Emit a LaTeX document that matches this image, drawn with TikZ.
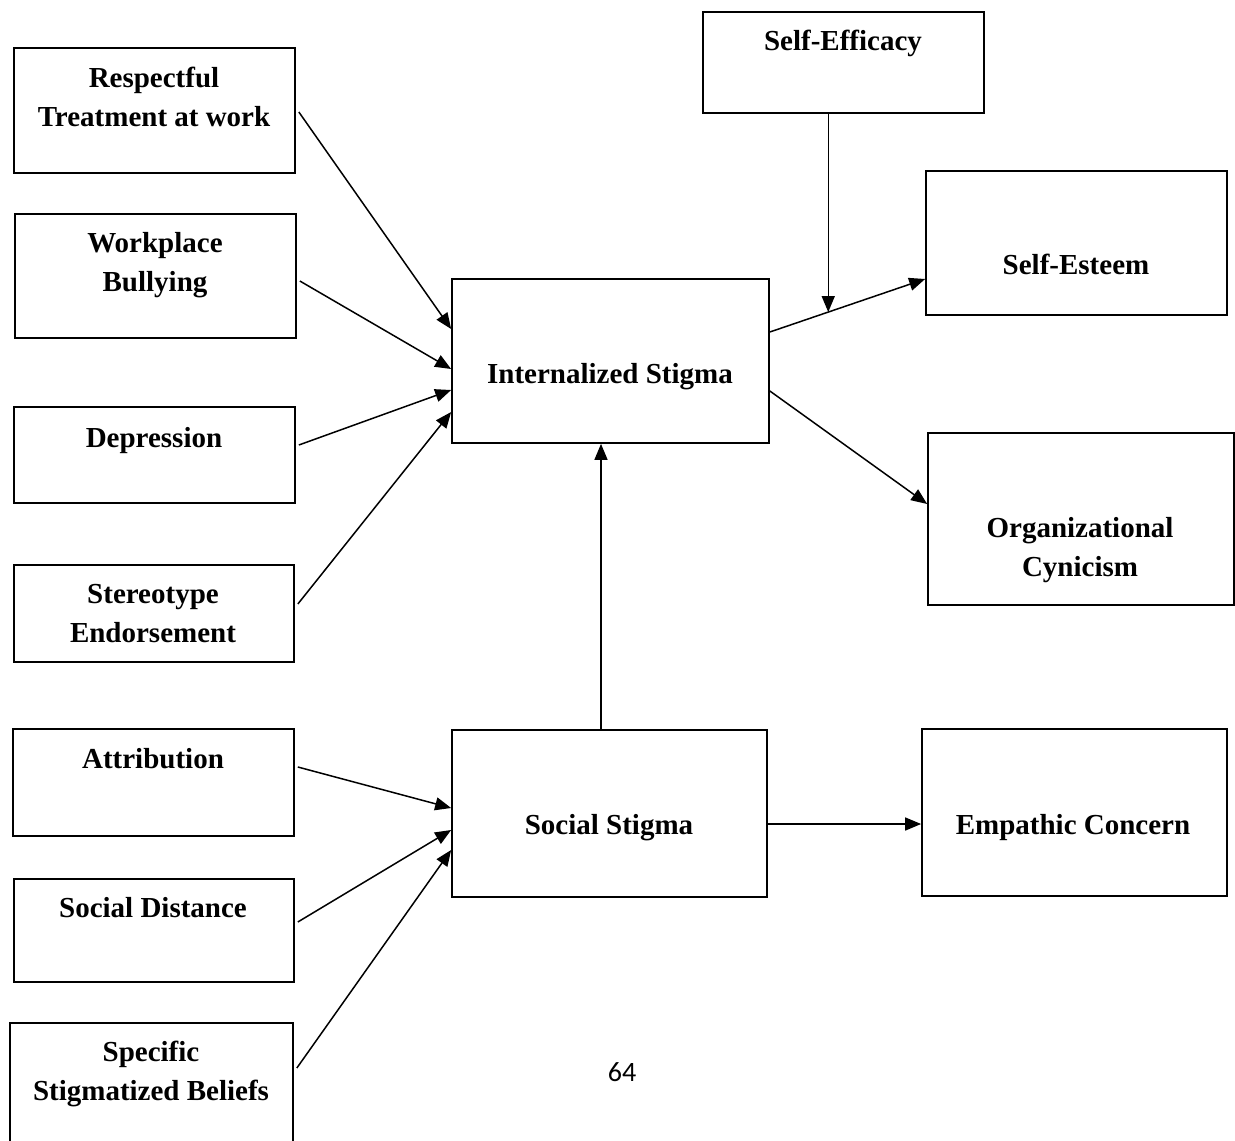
\documentclass[tikz,border=0pt]{standalone}
\usepackage{fontspec}
\setmainfont{Liberation Serif}
\newfontfamily\pagefont{Carlito}
\usetikzlibrary{arrows.meta,calc}

\begin{document}
\begin{tikzpicture}[x=1pt,y=1pt,yscale=-1,
  box/.style={draw,line width=1.7pt,inner sep=0pt},
  lbl/.style={font=\fontsize{29}{39}\selectfont\bfseries,align=center,inner sep=0pt},
  arr/.style={line width=1.5pt,-{Triangle[length=16pt,width=13pt]}}]
\useasboundingbox (0,0) rectangle (1235,1141);

%Shape: Rectangle [left column]
\node [box,minimum width=281pt,minimum height=125pt] (resp) at (154.5,110.5) {};
\node [box,minimum width=281pt,minimum height=124pt] (bully) at (155.5,276) {};
\node [box,minimum width=281pt,minimum height=96pt] (depr) at (154.5,455) {};
\node [box,minimum width=280pt,minimum height=97pt] (stereo) at (154,613.5) {};
\node [box,minimum width=281pt,minimum height=107pt] (attrib) at (153.5,782.5) {};
\node [box,minimum width=280pt,minimum height=103pt] (sdist) at (154,930.5) {};
\node [box,minimum width=283pt,minimum height=142pt] (spec) at (151.5,1094) {};

%Shape: Rectangle [middle]
\node [box,minimum width=317pt,minimum height=164pt] (intern) at (610.5,361) {};
\node [box,minimum width=315pt,minimum height=167pt] (social) at (609.5,813.5) {};

%Shape: Rectangle [right column]
\node [box,minimum width=281pt,minimum height=101pt] (sefic) at (843.5,62.5) {};
\node [box,minimum width=301pt,minimum height=144pt] (esteem) at (1076.5,243) {};
\node [box,minimum width=306pt,minimum height=172pt] (cynic) at (1081,519) {};
\node [box,minimum width=305pt,minimum height=167pt] (empath) at (1074.5,812.5) {};

% Text Node
\node [lbl] (resp-t) at (154,97) {Respectful\\Treatment at work};
\node [lbl] (bully-t) at (155,265.5) {Workplace\\Bullying};
\node [lbl] (depr-t) at (154,441) {Depression};
\node [lbl] (stereo-t) at (153,613.5) {Stereotype\\Endorsement};
\node [lbl] (attrib-t) at (153,759) {Attribution};
\node [lbl] (sdist-t) at (153,908) {Social Distance};
\node [lbl] (spec-t) at (151,1073.5) {Specific\\Stigmatized Beliefs};
\node [lbl] (intern-t) at (610,377) {Internalized Stigma};
\node [lbl] (social-t) at (609,828) {Social Stigma};
\node [lbl] (sefic-t) at (843,43) {Self-Efficacy};
\node [lbl] (esteem-t) at (1076,264) {Self-Esteem};
\node [lbl] (cynic-t) at (1080,550.5) {Organizational\\Cynicism};
\node [lbl] (empath-t) at (1073,828) {Empathic Concern};
\node [font=\pagefont\fontsize{28}{34}\selectfont,inner sep=0pt] (page) at (622,1072) {64};

%Straight Lines [into internalized stigma]
\draw [arr] ($(resp.east)+(3,1.5)$) -- ($(intern.west)+(0,-32)$);
\draw [arr] ($(bully.east)+(3,5)$) -- ($(intern.west)+(0,8)$);
\draw [arr] ($(depr.east)+(3,-10)$) -- ($(intern.west)+(0,29)$);
\draw [arr] ($(stereo.east)+(3,-9.5)$) -- ($(intern.west)+(0,51)$);

%Straight Lines [into social stigma]
\draw [arr] ($(attrib.east)+(3,-15.5)$) -- ($(social.west)+(0,-5.5)$);
\draw [arr] ($(sdist.east)+(3,-8.5)$) -- ($(social.west)+(0,16.5)$);
\draw [arr] ($(spec.east)+(3,-26)$) -- ($(social.west)+(0,36.5)$);

%Straight Lines [social to internalized]
\coordinate (up) at ($(social.north)+(-8.5,0)$);
\draw [arr] (up) -- (intern.south -| up);

%Straight Lines [outcomes]
\coordinate (es-from) at ($(intern.east)+(0,-29)$);
\coordinate (es-to) at ($(esteem.west)+(0,36)$);
\draw [arr] (es-from) -- (es-to);
\coordinate (meet) at ($(es-from)!0.376!(es-to)$);
\draw [arr] (sefic.south -| meet) -- (meet);
\draw [arr] ($(intern.east)+(0,30)$) -- ($(cynic.west)+(0,-15)$);
\draw [arr] ($(social.east)+(0,10.5)$) -- ($(empath.west)+(0,11.5)$);

\end{tikzpicture}
\end{document}
